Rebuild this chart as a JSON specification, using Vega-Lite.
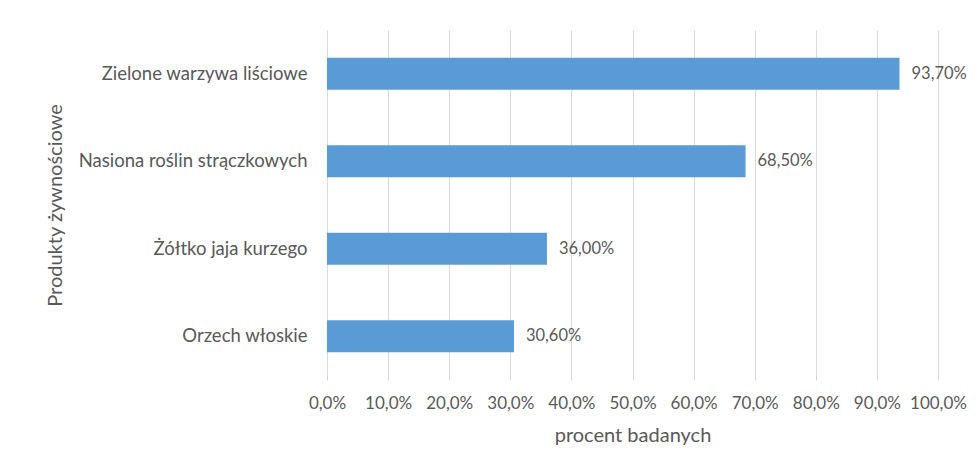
{
  "$schema": "https://vega.github.io/schema/vega-lite/v6.json",
  "autosize": "none",
  "width": 611,
  "height": 350,
  "padding": {"left": 327, "top": 30, "right": 41, "bottom": 95},
  "background": "white",
  "data": {"values": [
    {"produkt": "Zielone warzywa liściowe", "procent": 0.937},
    {"produkt": "Nasiona roślin strączkowych", "procent": 0.685},
    {"produkt": "Żółtko jaja kurzego", "procent": 0.36},
    {"produkt": "Orzech włoskie", "procent": 0.306}
  ]},
  "encoding": {
    "y": {
      "field": "produkt", "type": "nominal",
      "sort": ["Zielone warzywa liściowe", "Nasiona roślin strączkowych", "Żółtko jaja kurzego", "Orzech włoskie"],
      "scale": {"paddingInner": 0.634, "paddingOuter": 0.317},
      "axis": {"title": "Produkty żywnościowe", "domain": false, "ticks": false, "labelPadding": 20, "grid": false, "labelLimit": 400, "titleX": -272, "titleY": 175, "titleAngle": -90, "titleBaseline": "middle", "titleAlign": "center"}
    },
    "x": {
      "field": "procent", "type": "quantitative",
      "scale": {"domain": [0, 1], "nice": false},
      "axis": {"title": "procent badanych", "format": ".1%", "values": [0, 0.1, 0.2, 0.3, 0.4, 0.5, 0.6, 0.7, 0.8, 0.9, 1.0], "labelOverlap": false, "labelFlush": false, "labelFontSize": 17, "domain": false, "ticks": false, "labelPadding": 15, "titlePadding": 14, "grid": true}
    }
  },
  "layer": [
    {"mark": {"type": "bar", "color": "#5b9bd5"}},
    {"mark": {"type": "text", "align": "left", "dx": 12, "baseline": "middle", "color": "#595959", "fontSize": 16.5, "font": "Lato"},
     "encoding": {"text": {"field": "procent", "type": "quantitative", "format": ".2%"}}}
  ],
  "config": {
    "locale": {"number": {"decimal": ",", "thousands": " ", "grouping": [3], "currency": ["", " zł"]}},
    "view": {"stroke": null},
    "font": "Lato",
    "axis": {"labelFont": "Lato", "titleFont": "Lato", "labelFontSize": 18.5, "titleFontSize": 20, "titleFontWeight": "normal", "labelColor": "#595959", "titleColor": "#595959", "gridColor": "#d9d9d9", "gridWidth": 1}
  }
}
